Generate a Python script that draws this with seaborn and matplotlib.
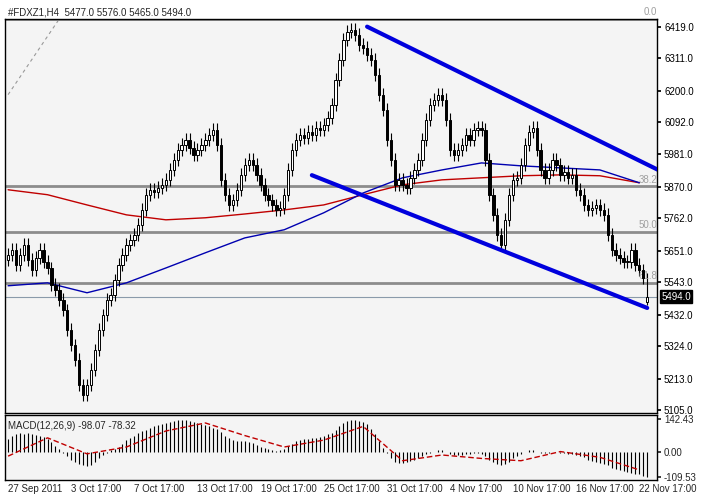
import numpy as np
import pandas as pd
import matplotlib
matplotlib.use("Agg")
import matplotlib.pyplot as plt
import seaborn as sns

closes = [5637,5654,5603,5637,5671,5620,5585,5627,5654,5613,
          5592,5534,5517,5483,5448,5380,5328,5277,5191,5157,
          5191,5243,5311,5380,5431,5483,5500,5551,5603,5637,
          5671,5688,5706,5740,5791,5843,5860,5853,5867,5877,
          5894,5929,5963,5997,6014,6032,6004,5980,5997,6014,
          6032,6049,6066,6014,5894,5843,5808,5825,5860,5911,
          5946,5963,5946,5911,5877,5843,5825,5808,5791,5798,
          5843,5929,5997,6032,6049,6038,6059,6049,6073,6066,
          6083,6107,6151,6237,6306,6374,6402,6409,6392,6357,
          6347,6323,6306,6254,6186,6134,6031,5963,5877,5894,
          5877,5867,5901,5929,5963,6031,6100,6151,6169,6186,
          6169,6100,5997,5980,5997,6014,6049,6031,6066,6073,
          6066,5963,5843,5774,5706,5671,5757,5843,5894,5901,
          5946,6014,6059,6073,5997,5929,5901,5929,5963,5946,
          5911,5922,5901,5911,5860,5843,5808,5791,5798,5808,
          5791,5774,5706,5654,5637,5627,5613,5613,5654,5603,
          5585,5558,5494]
first_open = 5620
ma_idx = [0,10,20,30,40,50,60,70,80,90,100,110,120,130,140,150,160]
red_ma = [5860,5843,5808,5774,5757,5764,5777,5791,5808,5843,5877,5894,5901,5908,5911,5908,5884]
blue_ma = [5531,5541,5507,5541,5592,5644,5695,5723,5781,5849,5901,5928,5952,5942,5935,5928,5884]
macd_hist = [55,70,75,80,75,80,78,72,70,65,
             55,40,25,10,-5,-20,-35,-45,-55,-60,
             -62,-58,-45,-30,-15,-5,5,10,20,35,
             50,60,70,80,90,95,105,110,115,120,
             125,130,135,140,140,138,135,130,125,120,
             115,110,105,100,85,70,60,50,45,45,
             45,40,38,30,20,15,10,5,2,5,
             10,25,35,45,50,55,55,60,60,65,
             70,75,80,95,110,125,135,140,140,135,
             130,120,100,75,45,15,-5,-30,-45,-50,
             -50,-45,-40,-35,-30,-20,-10,-5,0,5,
             5,0,-10,-15,-15,-15,-10,-10,-5,-5,
             -10,-20,-35,-45,-55,-60,-55,-45,-30,-20,
             -10,0,5,5,0,-5,-5,-5,0,0,
             -5,-5,-10,-10,-15,-20,-25,-35,-40,-45,
             -50,-55,-60,-70,-75,-80,-85,-90,-95,-100,
             -100,-105,-110]
signal = [-20,60,-10,20,90,125,70,20,50,110,-40,-15,-30,-40,0,-25,-80]
fib_levels = [6446,5872,5716,5540]
fib_labels = ["0.0","38.2","50.0","61.8"]
yticks = [6419,6311,6200,6092,5981,5870,5762,5651,5543,5432,5324,5213,5105]
xlabels = ["27 Sep 2011","3 Oct 17:00","7 Oct 17:00","13 Oct 17:00","19 Oct 17:00",
           "25 Oct 17:00","31 Oct 17:00","4 Nov 17:00","10 Nov 17:00","16 Nov 17:00","22 Nov 17:00"]

sns.set_theme(style="white")
plt.rcParams['font.family'] = ['Liberation Sans', 'DejaVu Sans']
fs = 7
bg = "#f4f4f4"
fig = plt.figure(figsize=(7.05,4.94), dpi=100)
fig.patch.set_facecolor("white")
ax = fig.add_axes([0.007,0.164,0.925,0.798])
mx = fig.add_axes([0.007,0.028,0.925,0.132])
for a in (ax,mx):
    a.set_facecolor(bg)
    for s in a.spines.values():
        s.set_color("black"); s.set_linewidth(1)

n = len(closes)
x = np.arange(n)
c = np.array(closes, float)
o = np.r_[first_open, c[:-1]]
o[-1] = 5477
hi = np.maximum(o,c) + 22
lo = np.minimum(o,c) - 22
hi[-1] = 5576; lo[-1] = 5465
up = c >= o
ax.vlines(x, lo, hi, color="black", lw=0.8, zorder=3)
ax.bar(x, np.maximum(np.abs(c-o), 3), bottom=np.minimum(o,c), width=0.6,
       color=np.where(up, "white", "black"), edgecolor="black", lw=0.7, zorder=4)

for lv, lb in zip(fib_levels, fib_labels):
    ax.axhline(lv, color="#8c8c8c", lw=2, zorder=1)
    ax.text(n+1.5, lv+6, lb, color="#a0a0a0", fontsize=fs, ha="right", va="bottom")
ax.axhline(5494, color="#8a9aaa", lw=0.8, zorder=1)

sns.lineplot(x=ma_idx, y=red_ma, ax=ax, color="#c00000", lw=1, zorder=2)
sns.lineplot(x=ma_idx, y=blue_ma, ax=ax, color="#0000b0", lw=1, zorder=2)
ax.plot([91,172],[6419,5880], color="#0000dd", lw=3, zorder=5)
ax.plot([77,162],[5910,5455], color="#0000dd", lw=3, zorder=5)
ax.plot([0,13],[6186,6446], color="#999999", lw=0.8, ls=(0,(3,3)))

ax.set_xlim(-0.8, n+1.5)
ax.set_ylim(5095, 6446)
ax.yaxis.tick_right()
ax.set_yticks(yticks)
ax.set_yticklabels([f"{v}.0" for v in yticks], fontsize=fs)
ax.tick_params(axis="y", length=3, pad=2, colors="black")
ax.set_xticks([])
ax.annotate("5494.0", xy=(1.0, 5494), xycoords=("axes fraction","data"), xytext=(3,0),
            textcoords="offset points", va="center", ha="left", fontsize=fs, color="white",
            bbox=dict(boxstyle="square,pad=0.15", fc="black", ec="black"))
ax.text(0.005, 1.004, "#FDXZ1,H4  5477.0 5576.0 5465.0 5494.0", transform=ax.transAxes,
        fontsize=fs, va="bottom")

mx.vlines(x, 0, macd_hist, color="black", lw=0.8)
sns.lineplot(x=ma_idx, y=signal, ax=mx, color="#c00000", lw=1, ls=(0,(4,2)))
mx.set_xlim(-0.8, n+1.5)
mx.set_ylim(-125, 160)
mx.yaxis.tick_right()
mx.set_yticks([142.43, 0, -109.53])
mx.set_yticklabels(["142.43","0.00","-109.53"], fontsize=fs)
mx.tick_params(axis="y", length=3, pad=2)
mx.set_xticks(np.arange(0, 161, 16))
mx.set_xticklabels(xlabels, fontsize=fs, ha="left")
mx.tick_params(axis="x", length=3, pad=0)
mx.text(0.005, 0.9, "MACD(12,26,9) -98.07 -78.32", transform=mx.transAxes, fontsize=fs, va="top")
fig.savefig("out.png", dpi=100)
